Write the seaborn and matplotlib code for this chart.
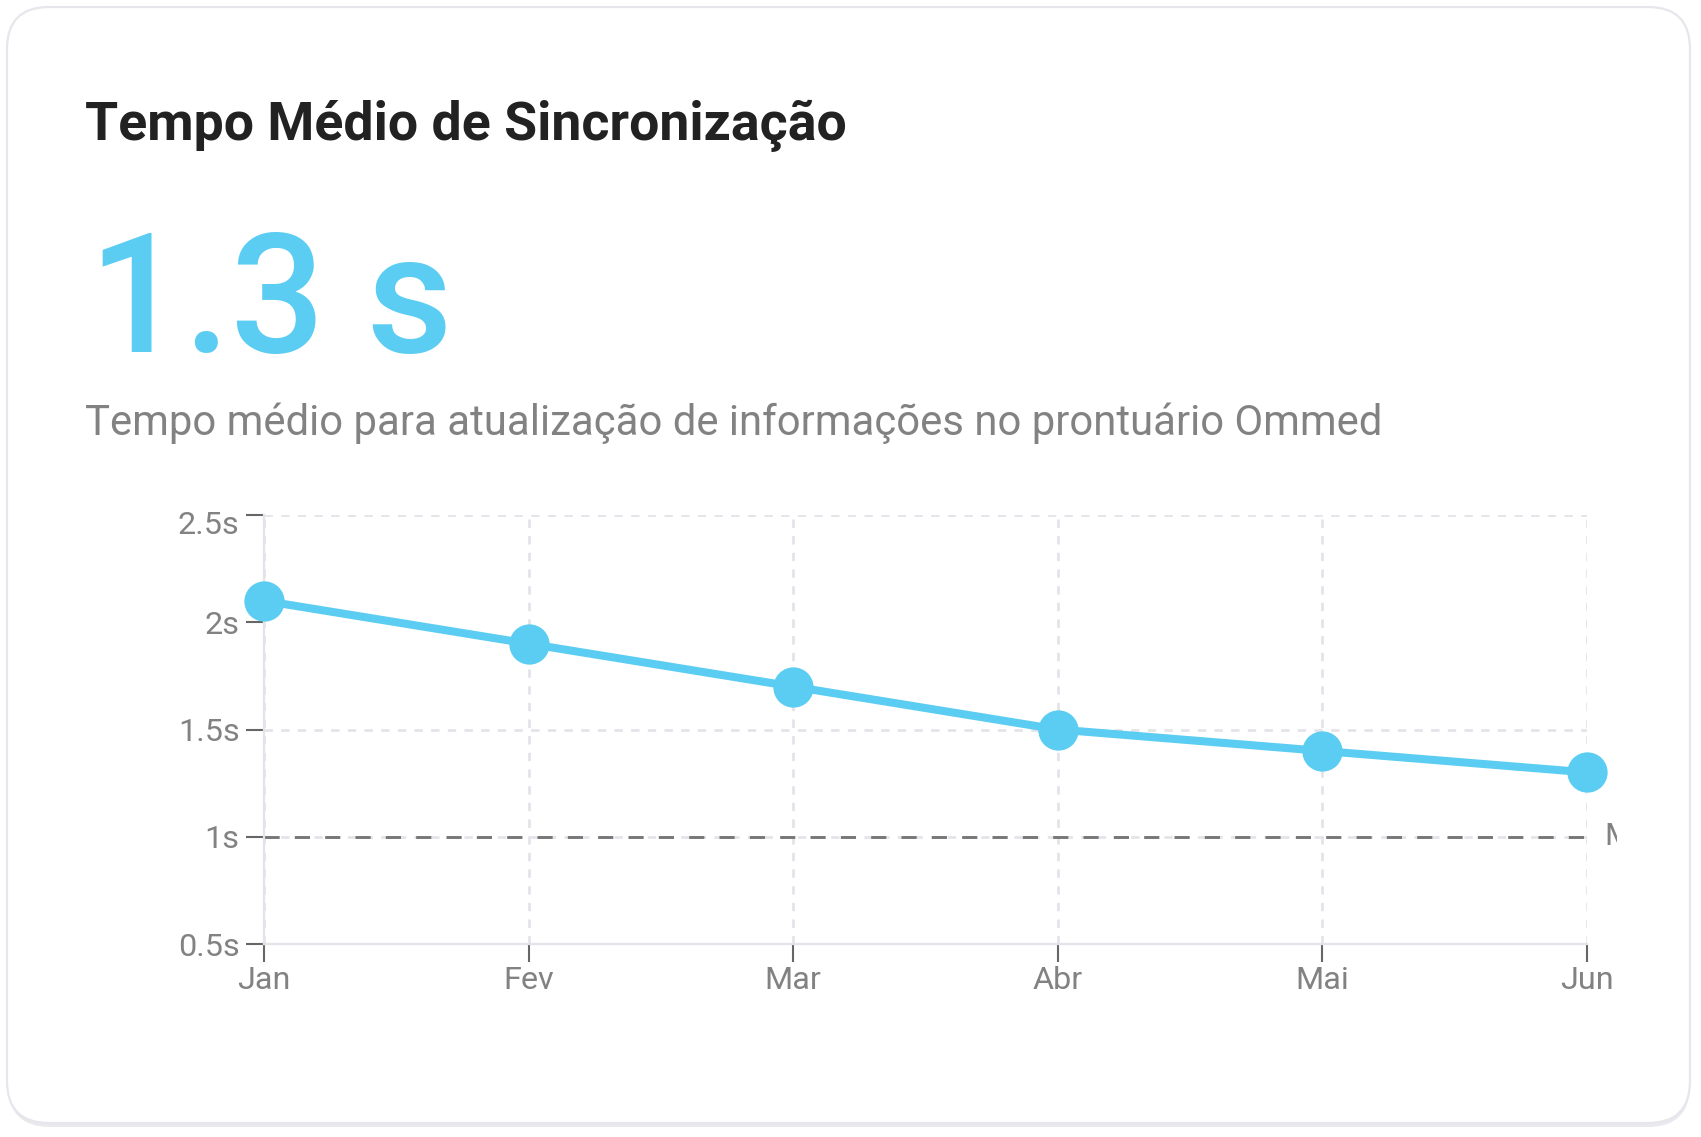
import matplotlib
matplotlib.use('Agg')
import matplotlib.pyplot as plt
import matplotlib.transforms as mtransforms
import seaborn as sns
import pandas as pd
from matplotlib.patches import FancyBboxPatch
from matplotlib.transforms import Bbox, TransformedBbox

# dados
months = ['Jan', 'Fev', 'Mar', 'Abr', 'Mai', 'Jun']
sync_time = [2.1, 1.9, 1.7, 1.5, 1.4, 1.3]
y_ticks = [0.5, 1.0, 1.5, 2.0, 2.5]
y_tick_labels = ['0.5s', '1s', '1.5s', '2s', '2.5s']
y_grid = [1.0, 1.5, 2.5]
meta = 1.0
meta_label = 'Meta'
title = 'Tempo Médio de Sincronização'
big_value = '1.3 s'
subtitle = 'Tempo médio para atualização de informações no prontuário Ommed'

blue = '#5BCDF2'
gray_txt = '#828282'
grid_col = '#E3E3EA'

sns.set_theme(style='white')
plt.rcParams['font.family'] = ['Roboto', 'DejaVu Sans']

W, H = 1701, 1137
fig = plt.figure(figsize=(W / 100, H / 100), dpi=100)
fig.patch.set_facecolor('white')

# card de fundo (coordenadas em pixels)
bg = fig.add_axes([0, 0, 1, 1], zorder=0)
bg.set_xlim(0, W)
bg.set_ylim(H, 0)
bg.axis('off')
shadow = FancyBboxPatch((8, 10), 1682, 1117, boxstyle='round,pad=0,rounding_size=42',
                        facecolor='#E9E9EE', edgecolor='none')
bg.add_patch(shadow)
card = FancyBboxPatch((7, 7), 1683, 1116, boxstyle='round,pad=0,rounding_size=42',
                      facecolor='white', edgecolor='#E6E6EC', linewidth=1.6)
bg.add_patch(card)

bg.text(85, 140, title, fontsize=38.6, fontweight='bold', color='#222222', va='baseline')
bg.text(89, 352, big_value, fontsize=120, fontweight='medium', color=blue, va='baseline')
bg.text(85, 435, subtitle, fontsize=30.2, color=gray_txt, va='baseline')

# grafico
ax = fig.add_axes([264 / W, 1 - 944 / H, 1323 / W, 429 / H], zorder=1)
ax.patch.set_alpha(0)

df = pd.DataFrame({'mes': months, 'tempo': sync_time})

for i in range(len(months)):
    ax.axvline(i, color=grid_col, lw=2, ls=(0, (3, 3)), zorder=0)
for v in y_grid:
    ax.axhline(v, color=grid_col, lw=2, ls=(0, (3, 3)), zorder=0)
ax.axhline(meta, color='#777777', lw=2.1, ls=(0, (5.2, 5.2)), zorder=1)

sns.lineplot(data=df, x='mes', y='tempo', ax=ax, color=blue, linewidth=5.8,
             marker='o', markersize=29, markeredgewidth=0, clip_on=False, zorder=3)

ax.set_xlim(0, len(months) - 1)
ax.set_ylim(0.5, 2.5)
ax.set_yticks(y_ticks)
ax.set_yticklabels(y_tick_labels)
ax.set_xticks(range(len(months)))
ax.set_xticklabels(months)
ax.set_xlabel('')
ax.set_ylabel('')

for s in ['top', 'right']:
    ax.spines[s].set_visible(False)
for s in ['left', 'bottom']:
    ax.spines[s].set_color(grid_col)
    ax.spines[s].set_linewidth(1.6)
ax.tick_params(axis='both', which='major', length=13, width=1.5, color='#666666',
               labelsize=23.3, labelcolor=gray_txt, direction='out')
ax.tick_params(axis='y', pad=4.5)
ax.tick_params(axis='x', pad=3)
ax.tick_params(left=True, bottom=True)

# rotulo do topo do eixo y empurrado para baixo
shift = mtransforms.ScaledTranslation(0, -7 / 100, fig.dpi_scale_trans)
top_lab = ax.get_yticklabels()[-1]
top_lab.set_transform(top_lab.get_transform() + shift)

t = ax.text(len(months) - 1 + 0.065, meta, meta_label, fontsize=23.3, color=gray_txt,
            va='center', ha='left')
t.set_clip_box(TransformedBbox(Bbox([[0, 0], [1617 / W, 1]]), fig.transFigure))
t.set_clip_on(True)

fig.savefig('out.png', dpi=100)
